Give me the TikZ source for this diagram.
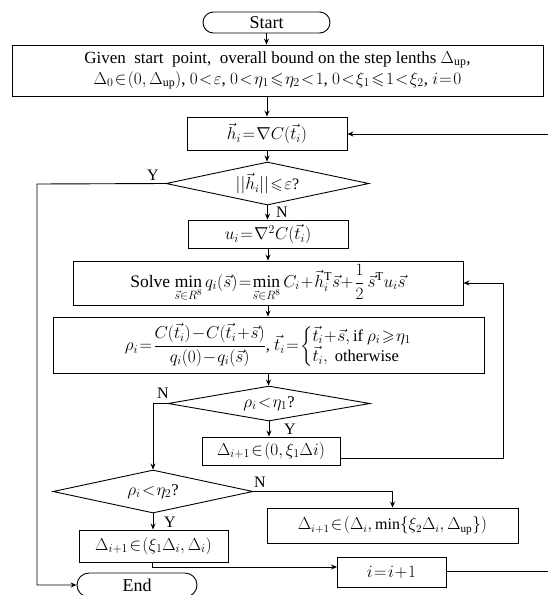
\documentclass[tikz,border=0pt]{standalone}
\usepackage{amsmath,amssymb}
\usepackage{fontspec}
\setmainfont{Liberation Serif}
\usetikzlibrary{arrows.meta,shapes.geometric}
\thickmuskip=1.5mu plus 1mu
\medmuskip=1mu plus 1mu
\newcommand{\fsz}[1]{\fontsize{#1}{#1}\selectfont}
\begin{document}
\begin{tikzpicture}[x=1pt,y=-1pt,
  every node/.style={font=\fsz{16}},
  box/.style={draw,line width=0.9pt,rectangle,inner sep=0pt,align=center},
  term/.style={draw,line width=0.9pt,rectangle,inner sep=0pt,rounded corners=10.5pt,font=\fsz{18}},
  dec/.style={draw,line width=0.9pt,diamond,inner sep=0pt,aspect=4.5},
  lab/.style={font=\fsz{16},inner sep=0pt},
  flow/.style={line width=0.9pt,-{Stealth[length=6pt,width=5pt]}},
  plain/.style={line width=0.9pt}]
\useasboundingbox (0,0) rectangle (548,595);
% nodes
\node[term,minimum width=127pt,minimum height=21pt] (start) at (266.5,22.5) {Start};
\node[box,minimum width=531pt,minimum height=51pt,font=\fsz{17}] (given) at (277.5,70.5) {Given\ \ start\ \ point,\ \ overall bound on the step lenths $\Delta_{\mathrm{up}}$,\\[2pt]
 $\Delta_0\in(0,\Delta_{\mathrm{up}})$, $0<\varepsilon$, $0<\eta_1\leqslant\eta_2<1$, $0<\xi_1\leqslant1<\xi_2$, $i=0$};
\node[box,minimum width=160pt,minimum height=33pt,font=\fsz{18}] (hbox) at (267,133.5) {$\vec{h}_i=\nabla C(\vec{t}_i)$};
\node[dec,minimum width=203pt,minimum height=43pt] (d1) at (267.5,183.5) {};
\node[font=\fsz{16}] (t1) at (d1.center) {$||\vec{h}_i||\leqslant\varepsilon$?};
\node[box,minimum width=160pt,minimum height=28pt,font=\fsz{18}] (ubox) at (268,234) {$u_i=\nabla^2C(\vec{t}_i)$};
\node[box,minimum width=390pt,minimum height=44pt,font=\fsz{17.5}] (solve) at (268,283) {Solve $\displaystyle\min_{\vec{s}\in R^8} q_i(\vec{s})=\min_{\vec{s}\in R^8} C_i+\vec{h}_i^{\mathrm{T}}\vec{s}+\frac{1}{2}\,\vec{s}^{\mathrm{T}}u_i\vec{s}$};
\node[box,minimum width=431pt,minimum height=56pt,font=\fsz{16.5}] (rho) at (268.5,345) {$\displaystyle\rho_i=\frac{C(\vec{t}_i)-C(\vec{t}_i+\vec{s})}{q_i(0)-q_i(\vec{s})}$,\ $\vec{t}_i=\left\{\begin{array}{@{}l@{}}\vec{t}_i+\vec{s},\text{if }\rho_i\geqslant\eta_1\\ \vec{t}_i,\text{ otherwise}\end{array}\right.$};
\node[dec,minimum width=202pt,minimum height=35pt,aspect=5.8] (d2) at (269,403.5) {};
\node[font=\fsz{16.5}] (t2) at (d2.center) {$\rho_i<\eta_1$?};
\node[box,minimum width=138pt,minimum height=28pt,font=\fsz{17}] (dbox1) at (271,451) {$\Delta_{i+1}\in(0,\xi_1\Delta i)$};
\node[dec,minimum width=200pt,minimum height=43pt] (d3) at (153,491.5) {};
\node[font=\fsz{16.5}] (t3) at (d3.center) {$\rho_i<\eta_2$?};
\node[box,minimum width=251pt,minimum height=35pt,font=\fsz{16}] (dbox3) at (392.5,525.5) {$\Delta_{i+1}\in(\Delta_i,\min\{\xi_2\Delta_i,\Delta_{\mathrm{up}}\})$};
\node[box,minimum width=149pt,minimum height=32pt,font=\fsz{17}] (dbox2) at (153.5,546) {$\Delta_{i+1}\in(\xi_1\Delta_i,\Delta_i)$};
\node[box,minimum width=109pt,minimum height=30pt,font=\fsz{16}] (ibox) at (391.5,572) {$i=i+1$};
\node[term,minimum width=120pt,minimum height=24pt,rounded corners=12pt] (end) at (137,585) {End};
% labels
\node[lab] (y1) at (153,175) {Y};
\node[lab] (n1) at (282,212) {N};
\node[lab] (n2) at (163,393) {N};
\node[lab] (y2) at (290,429) {Y};
\node[lab] (n3) at (260,482) {N};
\node[lab] (y3) at (170,522) {Y};
% coordinates
\coordinate (lx) at (37,184);
\coordinate (r1) at (503,458);
\coordinate (r2) at (503,283);
\coordinate (b1) at (152,567);
\coordinate (b2) at (337,567);
\coordinate (e1) at (548,571);
\coordinate (e2) at (548,134);
% connectors
\draw[flow] (start.south) -- (start.south |- given.north);
\draw[flow] (hbox.north |- given.south) -- (hbox.north);
\draw[flow] (hbox.south) -- (hbox.south |- d1.north);
\draw[flow] (d1.south) -- (d1.south |- ubox.north);
\draw[flow] (ubox.south) -- (ubox.south |- solve.north);
\draw[flow] (solve.south) -- (solve.south |- rho.north);
\draw[flow] (rho.south) -- (rho.south |- d2.north);
\draw[flow] (d2.south) -- (d2.south |- dbox1.north);
\draw[flow] (d1.west) -- (lx) |- (end.west);
\draw[flow] (d2.west) -| (d3.north);
\draw[flow] (dbox1.east |- r1) -- (r1) -- (r2) -- (solve.east);
\draw[flow] (d3.east) -| (dbox3.north);
\draw[flow] (d3.south) -- (d3.south |- dbox2.north);
\draw[flow] (dbox2.south -| b1) -- (b1) -- (b2);
\draw[plain] (ibox.east |- e1) -- (e1);
\draw[flow] (e2) -- (hbox.east |- e2);
\end{tikzpicture}
\end{document}
